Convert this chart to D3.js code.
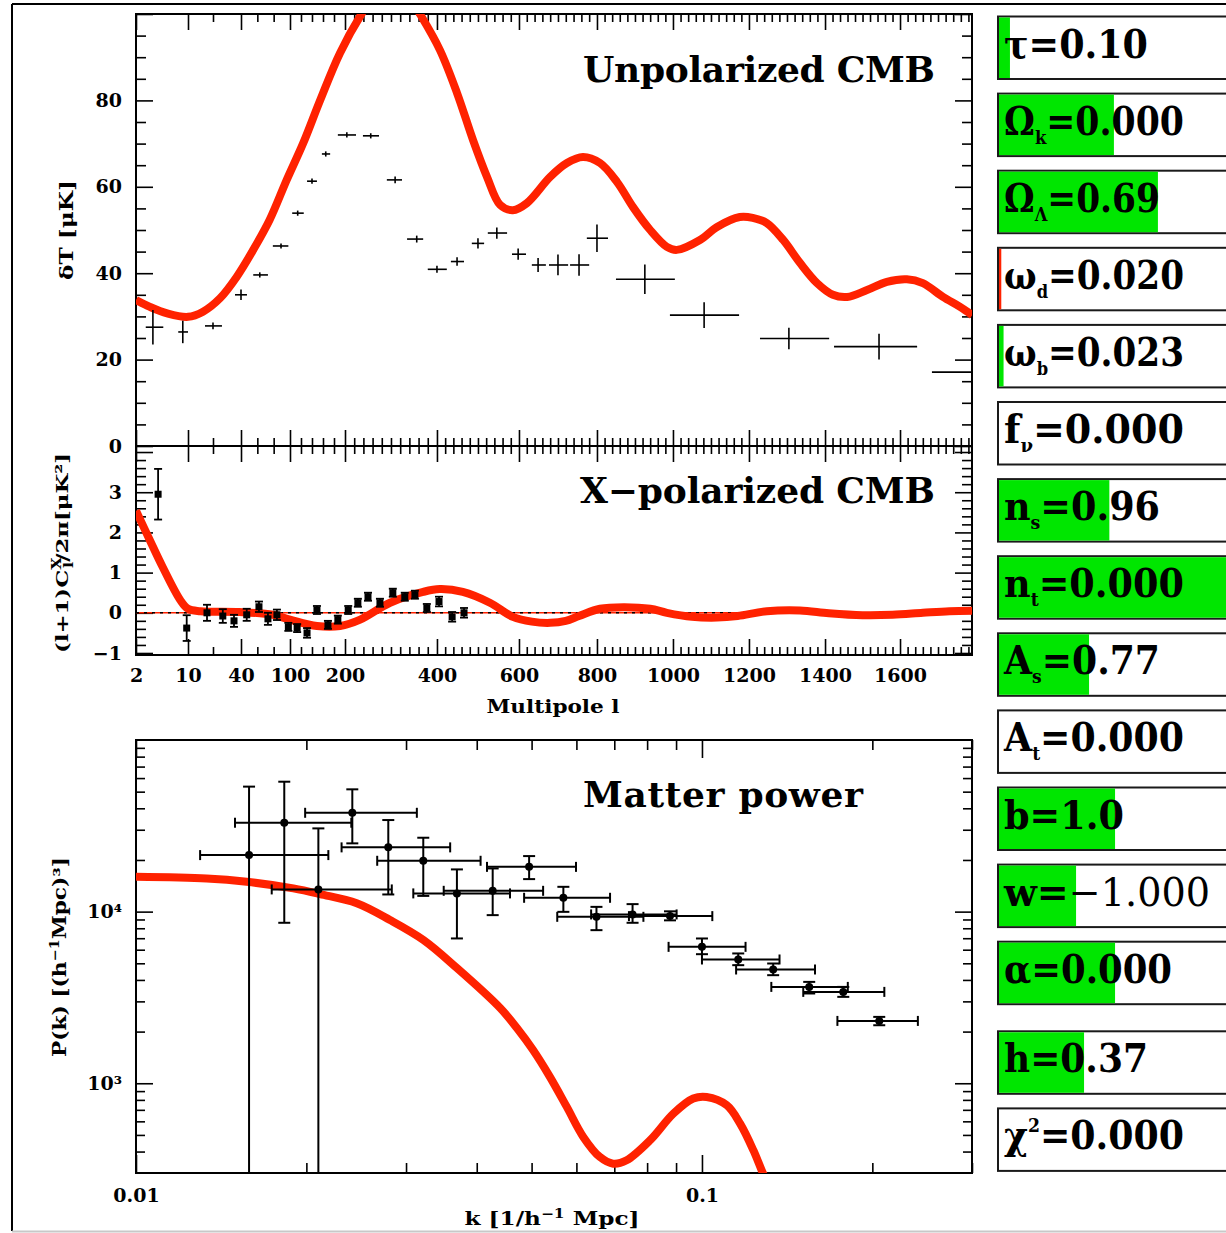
<!DOCTYPE html>
<html>
<head>
<meta charset="utf-8">
<script src="https://cdn.jsdelivr.net/npm/d3@7"></script>
<style>
  html, body { margin: 0; padding: 0; background: #fff; }
  svg { display: block; }
</style>
</head>
<body>
<svg id="chart" width="1226" height="1233"></svg>
<script>
// ---------- Multipole axis (piecewise: stretched at low l, near-linear at high l) ----------
const multipoleKnots   = [2, 10, 20, 40, 100, 200, 400, 600, 800, 1000, 1200, 1400, 1600, 1800];
const multipoleKnotPos = [0, 0.0622, 0.0921, 0.1256, 0.1842, 0.2500, 0.3600, 0.4581, 0.5514, 0.6423, 0.7332, 0.8242, 0.9139, 1.0048];
const multipoleTicks   = [2, 10, 40, 100, 200, 400, 600, 800, 1000, 1200, 1400, 1600];

// ---------- Unpolarized CMB: binned band powers ----------
const ttL    = [4.6, 9.2, 20, 40, 63, 89, 114, 140, 165, 204, 256, 309, 356, 400, 449, 500, 546, 598, 649, 700, 754, 800, 926, 1082, 1305, 1544, 1816];
const ttLmin = [3.5, 8.5, 16.8, 35.7, 55, 79, 104, 131, 158, 187, 239, 291, 335, 380, 434, 485, 524, 583, 633, 677, 731, 774, 850, 992, 1229, 1424, 1684];
const ttLmax = [6.2, 10, 26.4, 47.3, 73, 98, 125, 149, 173, 224, 274, 324, 370, 424, 466, 515, 571, 618, 669, 726, 780, 829, 1005, 1174, 1411, 1645, 1950];
const ttVal  = [27.5, 26.4, 27.8, 35, 39.6, 46.3, 53.9, 61.3, 67.6, 72, 71.8, 61.6, 47.9, 40.9, 42.7, 46.9, 49.3, 44.4, 41.9, 41.9, 41.9, 48.1, 38.6, 30.3, 24.9, 23, 17.1];
const ttErr  = [4, 2.6, 0.8, 1.2, 0.6, 0.6, 0.6, 0.6, 0.6, 0.6, 0.6, 0.8, 0.8, 0.8, 1.0, 1.2, 1.3, 1.3, 1.6, 2.4, 2.5, 3.2, 3.4, 3, 2.5, 3, 3];

// model curve dT(l)
const ttCurveL = [2, 4.15, 6.8, 10, 16, 25, 37, 55, 75, 96, 124, 155, 191, 237, 265, 295, 325, 345, 363, 407, 449, 488, 522, 554, 585, 620, 680, 723, 764, 808, 853, 895, 940, 984, 1010, 1071, 1116, 1176, 1210, 1247, 1290, 1334, 1379, 1421, 1459, 1512, 1565, 1618, 1660, 1713, 1758, 1790];
const ttCurveV = [33.8, 32.2, 30.7, 29.9, 31.1, 34.2, 39.2, 45.4, 52.3, 61.6, 70.1, 80.1, 91, 100.2, 104.5, 106.5, 105.5, 103, 100, 91.7, 81.7, 70.8, 62.3, 55.8, 54.6, 56.2, 62.3, 65.5, 66.9, 65.5, 61.1, 55.3, 50, 46.1, 45.4, 47.7, 50.7, 53, 52.8, 51.6, 47.7, 42.4, 37.7, 35, 34.5, 36.1, 38, 38.6, 37.7, 34.5, 32.2, 30.3];

// ---------- X-polarized CMB ----------
const teL   = [5.4, 9.8, 17.6, 27, 35, 47, 62, 73, 84, 98, 113, 131, 149, 169, 187, 207, 228, 250, 276, 304, 330, 352, 378, 405, 437, 466];
const teVal = [2.95, -0.38, 0.0, -0.08, -0.2, -0.05, 0.15, -0.15, -0.05, -0.35, -0.38, -0.5, 0.07, -0.3, -0.17, 0.07, 0.25, 0.4, 0.25, 0.5, 0.4, 0.45, 0.12, 0.28, -0.1, 0.0];
const teErr = [0.63, 0.32, 0.2, 0.17, 0.15, 0.15, 0.13, 0.15, 0.13, 0.1, 0.1, 0.12, 0.1, 0.1, 0.1, 0.1, 0.1, 0.1, 0.1, 0.1, 0.1, 0.1, 0.1, 0.12, 0.12, 0.12];

const teCurveL = [2, 4.15, 6.1, 8.8, 10, 15, 39, 79, 100, 149, 191, 233, 298, 370, 407, 463, 529, 585, 633, 680, 720, 754, 808, 870, 940, 984, 1050, 1116, 1170, 1247, 1334, 1410, 1500, 1580, 1660, 1730, 1790];
const teCurveV = [2.54, 1.8, 1.14, 0.32, 0.1, 0.04, 0.02, -0.05, -0.17, -0.33, -0.33, -0.17, 0.25, 0.52, 0.59, 0.52, 0.25, -0.1, -0.22, -0.25, -0.2, -0.08, 0.1, 0.14, 0.1, 0.0, -0.1, -0.12, -0.08, 0.04, 0.06, -0.01, -0.06, -0.05, 0.0, 0.04, 0.05];

// ---------- Matter power ----------
const pkK = [0.01, 0.01333, 0.01569, 0.01897, 0.02115, 0.02455, 0.0281, 0.0322, 0.0369, 0.044, 0.0471, 0.0503, 0.0539, 0.0577, 0.0617, 0.066, 0.0697, 0.0736, 0.081, 0.089, 0.0965, 0.1019, 0.1106, 0.1168, 0.1233, 0.1275, 0.131];
const pkP = [15960, 15600, 14930, 13650, 12640, 11180, 8930, 6830, 4690, 2743, 2098, 1562, 1086, 728, 487, 372, 340, 356, 466, 665, 815, 832, 745, 582, 406, 311, 255];

// galaxy survey band powers
const gK   = [0.01584, 0.01828, 0.0210, 0.02411, 0.02791, 0.03218, 0.0369, 0.04268, 0.0495, 0.0569, 0.0651, 0.0754, 0.0878, 0.100, 0.1159, 0.1336, 0.1547, 0.1777, 0.2057];
const gKlo = [0.01298, 0.01496, 0.01737, 0.01990, 0.02308, 0.02668, 0.0309, 0.03497, 0.0417, 0.0485, 0.0555, 0.0637, 0.0743, 0.0873, 0.100, 0.1149, 0.1326, 0.151, 0.1735];
const gKhi = [0.02187, 0.02401, 0.02831, 0.03135, 0.03590, 0.04063, 0.0458, 0.0524, 0.0599, 0.0688, 0.0788, 0.0902, 0.1043, 0.1194, 0.1371, 0.1584, 0.181, 0.2100, 0.2407];
const gP   = [21350, 32960, 13470, 37660, 23680, 19780, 12770, 13220, 18230, 12040, 9327, 9630, 9415, 6234, 5262, 4601, 3643, 3407, 2308];
const gPlo = [0, 8610, 0, 24990, 12590, 12350, 6978, 9541, 15470, 9970, 7800, 8610, 8896, 5650, 4876, 4263, 3335, 3187, 2178];
const gPhi = [53500, 57150, 30550, 51590, 34170, 26950, 17620, 17850, 21070, 13950, 10660, 11060, 10040, 6975, 5706, 4986, 3896, 3643, 2436];

// ---------- Parameter sliders ----------
const paramSymbol = ["τ", "Ω", "Ω", "ω", "ω", "f", "n", "n", "A", "A", "b", "w", "α", "h", "χ"];
const paramSub    = ["", "k", "Λ", "d", "b", "ν", "s", "t", "s", "t", "", "", "", "", ""];
const paramSup    = ["", "", "", "", "", "", "", "", "", "", "", "", "", "", "2"];
const paramValue  = ["0.10", "0.000", "0.69", "0.020", "0.023", "0.000", "0.96", "0.000", "0.77", "0.000", "1.0", "−1.000", "0.000", "0.37", "0.000"];
const sliderPos   = [0.048, 0.504, 0.697, 0.01, 0.02, 0, 0.484, 1, 0.395, 0, 0.509, 0.338, 0.509, 0.373, 0];
const flaggedParams = new Set([3]);   // drawn in red

// ---------- layout ----------
const FONT = "'DejaVu Serif', 'Liberation Serif', serif";
const RED = "#ff2200";
const GREEN = "#00e600";
const P = { left: 136, right: 972 };
const topP = { top: 14, bottom: 446 };
const midP = { top: 446, bottom: 655 };
const matP = { top: 740, bottom: 1173 };

const svg = d3.select("#chart");
svg.append("rect").attr("width", 1226).attr("height", 1233).attr("fill", "#fff");

// scales
const xL  = d3.scaleLinear().domain(multipoleKnots)
              .range(multipoleKnotPos.map(f => P.left + f * (P.right - P.left)));
const yTT = d3.scaleLinear().domain([0, 100]).range([topP.bottom, topP.top]);
const yTE = d3.scaleLinear().domain([-1.05, 4.15]).range([midP.bottom, midP.top]);
const xK  = d3.scaleLog().domain([0.01, 0.3]).range([P.left, P.right]);
const yP  = d3.scaleLog().domain([300, 1e5]).range([matP.bottom, matP.top]);

// outer frame
svg.append("line").attr("x1", 12).attr("x2", 1226).attr("y1", 4).attr("y2", 4).attr("stroke", "#000").attr("stroke-width", 2);
svg.append("line").attr("x1", 12).attr("x2", 12).attr("y1", 4).attr("y2", 1231).attr("stroke", "#000").attr("stroke-width", 2);
svg.append("line").attr("x1", 12).attr("x2", 1226).attr("y1", 1231.5).attr("y2", 1231.5).attr("stroke", "#c8c8c8").attr("stroke-width", 2);

const defs = svg.append("defs");
function clip(id, t, b) {
  defs.append("clipPath").attr("id", id).append("rect")
    .attr("x", P.left).attr("y", t).attr("width", P.right - P.left).attr("height", b - t);
  return `url(#${id})`;
}

// axis helper: ticks point inward, labels optional
function axis(gen, scale, values, size, transform, fmt, padding) {
  const a = gen(scale).tickValues(values).tickSizeInner(-size).tickSizeOuter(0)
    .tickFormat(fmt || (() => ""));
  if (padding != null) a.tickPadding(padding);
  const g = svg.append("g").attr("transform", transform).call(a);
  g.select(".domain").remove();
  g.selectAll(".tick line").attr("stroke", "#000").attr("stroke-width", 1.6);
  g.attr("font-family", FONT).attr("font-size", 19).attr("font-weight", "bold");
  g.selectAll("text").attr("fill", "#000");
  return g;
}

function frame(t, b) {
  svg.append("rect").attr("x", P.left).attr("y", t).attr("width", P.right - P.left).attr("height", b - t)
    .attr("fill", "none").attr("stroke", "#000").attr("stroke-width", 2);
}

// ---------- ticks: multipole panels ----------
const lMinor = d3.range(20, 1800, 20).filter(v => !multipoleTicks.includes(v));
[[d3.axisTop, topP.top], [d3.axisBottom, topP.bottom], [d3.axisTop, midP.top]].forEach(([gen, y]) => {
  axis(gen, xL, multipoleTicks, 16, `translate(0,${y})`);
  axis(gen, xL, lMinor, 8, `translate(0,${y})`);
});
axis(d3.axisBottom, xL, multipoleTicks, 16, `translate(0,${midP.bottom})`, d3.format("d"), 14);
axis(d3.axisBottom, xL, lMinor, 8, `translate(0,${midP.bottom})`);

// top panel y ticks
const ttMajor = [0, 20, 40, 60, 80, 100];
const ttMinor = d3.range(5, 100, 5).filter(v => v % 20 !== 0);
axis(d3.axisLeft, yTT, ttMajor, 17, `translate(${P.left},0)`, d => d === 100 ? "" : d, 14);
axis(d3.axisLeft, yTT, ttMinor, 10, `translate(${P.left},0)`);
axis(d3.axisRight, yTT, ttMajor, 17, `translate(${P.right},0)`);
axis(d3.axisRight, yTT, ttMinor, 10, `translate(${P.right},0)`);

// middle panel y ticks
const teMajor = [-1, 0, 1, 2, 3, 4];
const teMinor = d3.range(-4, 21).map(i => i * 0.2).filter(v => Math.abs(v - Math.round(v)) > 1e-6);
axis(d3.axisLeft, yTE, teMajor, 17, `translate(${P.left},0)`, d => d === 4 ? "" : (d < 0 ? "−" + (-d) : d), 14);
axis(d3.axisLeft, yTE, teMinor, 10, `translate(${P.left},0)`);
axis(d3.axisRight, yTE, teMajor, 17, `translate(${P.right},0)`);
axis(d3.axisRight, yTE, teMinor, 10, `translate(${P.right},0)`);

// matter power ticks
const kMajor = [0.01, 0.1];
const kMinor = [0.02, 0.03, 0.04, 0.05, 0.06, 0.07, 0.08, 0.09, 0.2, 0.3];
const pMajor = [1e3, 1e4];
const pMinor = [400, 500, 600, 700, 800, 900, 2e3, 3e3, 4e3, 5e3, 6e3, 7e3, 8e3, 9e3, 2e4, 3e4, 4e4, 5e4, 6e4, 7e4, 8e4, 9e4];
axis(d3.axisBottom, xK, kMajor, 18, `translate(0,${matP.bottom})`, d => d === 0.01 ? "0.01" : "0.1", 16);
axis(d3.axisBottom, xK, kMinor, 10, `translate(0,${matP.bottom})`);
axis(d3.axisTop, xK, kMajor, 18, `translate(0,${matP.top})`);
axis(d3.axisTop, xK, kMinor, 10, `translate(0,${matP.top})`);
axis(d3.axisLeft, yP, pMajor, 17, `translate(${P.left},0)`, d => d === 1e4 ? "10⁴" : "10³", 14);
axis(d3.axisLeft, yP, pMinor, 9, `translate(${P.left},0)`);
axis(d3.axisRight, yP, pMajor, 17, `translate(${P.right},0)`);
axis(d3.axisRight, yP, pMinor, 9, `translate(${P.right},0)`);

frame(topP.top, topP.bottom);
frame(midP.top, midP.bottom);
frame(matP.top, matP.bottom);

// ---------- top panel: model + band powers ----------
const curve = d3.curveCatmullRom.alpha(0.5);
const gTop = svg.append("g").attr("clip-path", clip("clipTop", topP.top, topP.bottom));
gTop.append("path")
  .datum(d3.zip(ttCurveL, ttCurveV))
  .attr("d", d3.line().curve(curve).x(d => xL(d[0])).y(d => yTT(d[1])))
  .attr("fill", "none").attr("stroke", RED).attr("stroke-width", 8).attr("stroke-linejoin", "round");
const ttIdx = d3.range(ttL.length);
const gTTerr = gTop.append("g").attr("stroke", "#000").attr("stroke-width", 1.6);
gTTerr.selectAll(".h").data(ttIdx).join("line")
  .attr("x1", i => xL(ttLmin[i])).attr("x2", i => xL(ttLmax[i]))
  .attr("y1", i => yTT(ttVal[i])).attr("y2", i => yTT(ttVal[i]));
gTTerr.selectAll(".v").data(ttIdx).join("line")
  .attr("x1", i => xL(ttL[i])).attr("x2", i => xL(ttL[i]))
  .attr("y1", i => yTT(ttVal[i] - ttErr[i])).attr("y2", i => yTT(ttVal[i] + ttErr[i]));

// ---------- middle panel ----------
const gMid = svg.append("g").attr("clip-path", clip("clipMid", midP.top, midP.bottom));
gMid.append("line").attr("x1", P.left).attr("x2", P.right).attr("y1", yTE(0)).attr("y2", yTE(0))
  .attr("stroke", RED).attr("stroke-width", 1.4);
gMid.append("line").attr("x1", P.left).attr("x2", P.right).attr("y1", yTE(0)).attr("y2", yTE(0))
  .attr("stroke", "#000").attr("stroke-width", 1.4).attr("stroke-dasharray", "3,5");
gMid.append("path")
  .datum(d3.zip(teCurveL, teCurveV))
  .attr("d", d3.line().curve(curve).x(d => xL(d[0])).y(d => yTE(d[1])))
  .attr("fill", "none").attr("stroke", RED).attr("stroke-width", 8).attr("stroke-linejoin", "round");
const teIdx = d3.range(teL.length);
const gTE = gMid.append("g").attr("stroke", "#000").attr("stroke-width", 1.8);
teIdx.forEach(i => {
  const x = xL(teL[i]), y0 = yTE(teVal[i] - teErr[i]), y1 = yTE(teVal[i] + teErr[i]);
  gTE.append("line").attr("x1", x).attr("x2", x).attr("y1", y0).attr("y2", y1);
  gTE.append("line").attr("x1", x - 4).attr("x2", x + 4).attr("y1", y0).attr("y2", y0);
  gTE.append("line").attr("x1", x - 4).attr("x2", x + 4).attr("y1", y1).attr("y2", y1);
  gTE.append("rect").attr("x", x - 3.5).attr("y", yTE(teVal[i]) - 3.5).attr("width", 7).attr("height", 7)
    .attr("fill", "#000").attr("stroke", "none");
});

// ---------- matter power panel ----------
const gMat = svg.append("g").attr("clip-path", clip("clipMat", matP.top, matP.bottom));
gMat.append("path")
  .datum(d3.zip(pkK, pkP))
  .attr("d", d3.line().curve(curve).x(d => xK(d[0])).y(d => yP(d[1])))
  .attr("fill", "none").attr("stroke", RED).attr("stroke-width", 8).attr("stroke-linejoin", "round");
const gG = gMat.append("g").attr("stroke", "#000").attr("stroke-width", 2);
d3.range(gK.length).forEach(i => {
  const x = xK(gK[i]), y = yP(gP[i]);
  const ya = yP(Math.max(gPlo[i], 1)), yb = yP(gPhi[i]);
  const xa = xK(gKlo[i]), xb = xK(gKhi[i]);
  gG.append("line").attr("x1", x).attr("x2", x).attr("y1", ya).attr("y2", yb);
  gG.append("line").attr("x1", x - 6).attr("x2", x + 6).attr("y1", ya).attr("y2", ya);
  gG.append("line").attr("x1", x - 6).attr("x2", x + 6).attr("y1", yb).attr("y2", yb);
  gG.append("line").attr("x1", xa).attr("x2", xb).attr("y1", y).attr("y2", y);
  gG.append("line").attr("x1", xa).attr("x2", xa).attr("y1", y - 5).attr("y2", y + 5);
  gG.append("line").attr("x1", xb).attr("x2", xb).attr("y1", y - 5).attr("y2", y + 5);
  gG.append("circle").attr("cx", x).attr("cy", y).attr("r", 4).attr("fill", "#000").attr("stroke", "none");
});

// ---------- titles and axis labels ----------
function label(x, y, txt, size, len, opts = {}) {
  const t = svg.append("text").attr("x", x).attr("y", y)
    .attr("font-family", FONT).attr("font-size", size).attr("font-weight", opts.weight || "bold")
    .attr("text-anchor", opts.anchor || "start").attr("fill", "#000");
  if (opts.rotate) t.attr("transform", `rotate(-90,${x},${y})`);
  if (len) t.attr("textLength", len).attr("lengthAdjust", opts.adjust || "spacing");
  if (typeof txt === "string") t.text(txt); else txt(t);
  return t;
}
label(583, 82, "Unpolarized CMB", 36, 352);
label(580, 503, "X−polarized CMB", 36, 355);
label(583, 807, "Matter power", 36, 280);

label(553, 713, "Multipole l", 18, 133, { anchor: "middle", adjust: "spacingAndGlyphs" });
label(552, 1225, t => {
  t.append("tspan").text("k [1/h");
  t.append("tspan").attr("font-size", 12).attr("dy", -7).text("−1");
  t.append("tspan").attr("dy", 7).text(" Mpc]");
}, 18, 175, { anchor: "middle", adjust: "spacingAndGlyphs" });

label(73, 230, "δT [μK]", 18, 100, { anchor: "middle", rotate: true, adjust: "spacingAndGlyphs" });
label(68, 553, t => {
  t.append("tspan").text("(l+1)C");
  t.append("tspan").attr("font-size", 12).attr("dy", -7).text("X");
  t.append("tspan").attr("font-size", 12).attr("dx", -8).attr("dy", 12).text("l");
  t.append("tspan").attr("dy", -5).text("/2π[μK²]");
}, 17, 200, { anchor: "middle", rotate: true, adjust: "spacingAndGlyphs" });
label(66, 957, t => {
  t.append("tspan").text("P(k) [(h");
  t.append("tspan").attr("font-size", 12).attr("dy", -7).text("−1");
  t.append("tspan").attr("dy", 7).text("Mpc)³]");
}, 18, 200, { anchor: "middle", rotate: true, adjust: "spacingAndGlyphs" });

// ---------- parameter slider boxes ----------
const boxX = 998, boxW = 240, boxH = 62.5, trackW = 228;
const boxTop = i => 16.5 + i * 77.1 + (i >= 13 ? 12.5 : 0);
paramSymbol.forEach((sym, i) => {
  const top = boxTop(i);
  const g = svg.append("g");
  g.append("rect").attr("x", boxX).attr("y", top).attr("width", boxW).attr("height", boxH)
    .attr("fill", "#fff").attr("stroke", "#1a1a1a").attr("stroke-width", 2);
  if (sliderPos[i] > 0) {
    g.append("rect").attr("x", boxX + 1).attr("y", top + 1)
      .attr("width", Math.max(2, sliderPos[i] * trackW)).attr("height", boxH - 2)
      .attr("fill", flaggedParams.has(i) ? RED : GREEN);
  }
  const chars = [...paramValue[i]];
  const nMain = 2 + chars.length;
  const nSmall = paramSub[i].length + paramSup[i].length;
  const extra = paramValue[i].startsWith("−") ? 14 : 0;
  const t = g.append("text").attr("x", boxX + 6).attr("y", top + 41)
    .attr("font-family", FONT).attr("font-size", 40).attr("font-weight", "bold").attr("fill", "#000")
    .attr("textLength", 24 * nMain + 12 * nSmall + extra).attr("lengthAdjust", "spacingAndGlyphs");
  t.append("tspan").text(sym);
  let shift = 0;
  if (paramSub[i]) { t.append("tspan").attr("font-size", 19).attr("dy", 9).text(paramSub[i]); shift = -9; }
  if (paramSup[i]) { t.append("tspan").attr("font-size", 19).attr("dy", -17).text(paramSup[i]); shift = 17; }
  t.append("tspan").attr("dy", shift).text("=");
  const v = t.append("tspan").text(paramValue[i]);
  if (paramValue[i].startsWith("−")) v.attr("font-weight", "normal");
});
</script>
</body>
</html>
